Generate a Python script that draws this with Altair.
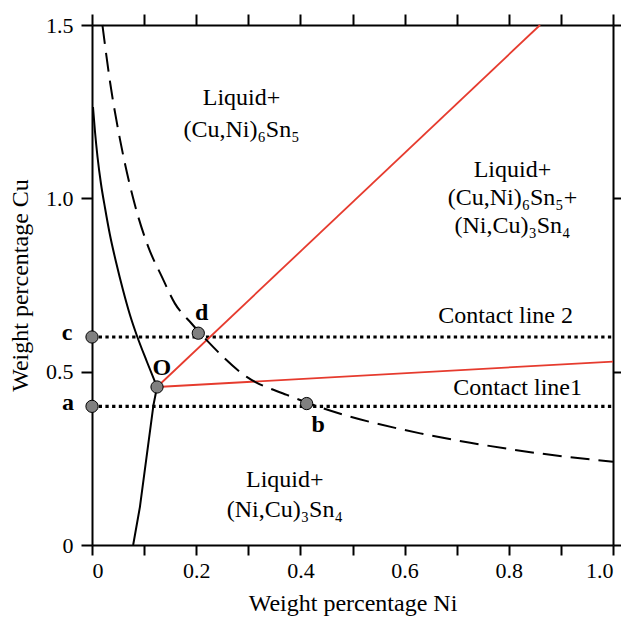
import altair as alt
import pandas as pd

# ---- data ----
solid_upper_x = [0.0019, 0.0058, 0.0106, 0.0173, 0.0250, 0.0345, 0.0461,
                 0.0595, 0.0729, 0.0864, 0.1056, 0.1248]
solid_upper_y = [1.2634, 1.1913, 1.1192, 1.0413, 0.9721, 0.8942, 0.8163,
                 0.7356, 0.6635, 0.6029, 0.5279, 0.4558]
solid_lower_x = [0.1248, 0.118, 0.092, 0.079]
solid_lower_y = [0.4558, 0.404, 0.110, 0.0]

dashed_x = [0.020, 0.035, 0.054, 0.079, 0.108, 0.134, 0.159, 0.191, 0.220,
            0.297, 0.374, 0.425, 0.630, 0.726, 0.860, 1.0]
dashed_y = [1.5, 1.332, 1.168, 1.0, 0.860, 0.774, 0.697, 0.639, 0.591,
            0.485, 0.433, 0.404, 0.322, 0.295, 0.264, 0.240]

red1_x = [0.1248, 0.86]
red1_y = [0.4558, 1.5]
red2_x = [0.1248, 1.0]
red2_y = [0.4558, 0.529]

contact_names = ["Contact line 2", "Contact line1"]
contact_y = [0.6, 0.4]

point_names = ["c", "a", "O", "d", "b"]
point_x = [0.0, 0.0, 0.1248, 0.204, 0.412]
point_y = [0.6, 0.4, 0.4558, 0.611, 0.408]
point_label_x = [-0.048, -0.046, 0.134, 0.2105, 0.434]
point_label_y = [0.591, 0.389, 0.490, 0.649, 0.327]

region_text = ["Liquid+", "(Cu,Ni)\u2086Sn\u2085",
               "Liquid+", "(Cu,Ni)\u2086Sn\u2085+", "(Ni,Cu)\u2083Sn\u2084",
               "Liquid+", "(Ni,Cu)\u2083Sn\u2084",
               "Contact line 2", "Contact line1"]
region_x = [0.287, 0.287, 0.807, 0.807, 0.807, 0.370, 0.370, 0.794, 0.817]
region_y = [1.269, 1.177, 1.062, 0.981, 0.899, 0.168, 0.082, 0.640, 0.433]

x_ticks = [round(i * 0.1, 1) for i in range(11)]
y_ticks = [0, 0.5, 1.0, 1.5]

FONT = "Liberation Serif"
RED = "#e63b2e"

xs = alt.Scale(domain=[0, 1], nice=False, zero=False)
ys = alt.Scale(domain=[0, 1.5], nice=False, zero=False)


def X(axis=None):
    if axis is None:
        return alt.X("x:Q", scale=xs, axis=None)
    return alt.X("x:Q", scale=xs, axis=axis)


def Y(axis=None):
    if axis is None:
        return alt.Y("y:Q", scale=ys, axis=None)
    return alt.Y("y:Q", scale=ys, axis=axis)


# dotted contact lines
dotted_df = pd.DataFrame({
    "x": [0.0, 1.0, 0.0, 1.0],
    "y": [contact_y[0], contact_y[0], contact_y[1], contact_y[1]],
    "g": [contact_names[0], contact_names[0], contact_names[1], contact_names[1]],
})
dotted = alt.Chart(dotted_df).mark_line(
    color="black", strokeWidth=3.2, strokeDash=[3.3, 3.4]
).encode(
    x=X(alt.Axis(orient="bottom", values=x_ticks,
                 labelExpr="datum.value == 0 ? '0' : (round(datum.value*10) % 2 == 0 ? format(datum.value, '.1f') : '')",
                 title="Weight percentage Ni", titlePadding=10,
                 tickSize=10, labelPadding=5, grid=False)),
    y=Y(alt.Axis(orient="left", values=y_ticks,
                 labelExpr="datum.value == 0 ? '0' : format(datum.value, '.1f')",
                 title="Weight percentage Cu", titlePadding=13,
                 tickSize=11, labelPadding=8, grid=False)),
    detail="g:N",
)

red_df = pd.DataFrame({
    "x": red1_x + red2_x,
    "y": red1_y + red2_y,
    "g": ["r1"] * len(red1_x) + ["r2"] * len(red2_x),
})
red = alt.Chart(red_df).mark_line(color=RED, strokeWidth=1.8).encode(
    x=X(), y=Y(), detail="g:N")

solid_up_df = pd.DataFrame({"x": solid_upper_x, "y": solid_upper_y})
solid_up = alt.Chart(solid_up_df).mark_line(
    color="black", strokeWidth=2, interpolate="monotone"
).encode(x=X(), y=Y())

solid_lo_df = pd.DataFrame({"x": solid_lower_x, "y": solid_lower_y,
                            "o": list(range(len(solid_lower_x)))})
solid_lo = alt.Chart(solid_lo_df).mark_line(
    color="black", strokeWidth=2
).encode(x=X(), y=Y(), order="o:Q")

dashed_df = pd.DataFrame({"x": dashed_x, "y": dashed_y})
dashed = alt.Chart(dashed_df).mark_line(
    color="black", strokeWidth=2, strokeDash=[19, 9], interpolate="monotone"
).encode(x=X(), y=Y())

pts_df = pd.DataFrame({"x": point_x, "y": point_y, "name": point_names})
pts = alt.Chart(pts_df).mark_point(
    shape="circle", filled=True, fill="#808080", stroke="black",
    strokeWidth=1, size=150, opacity=1
).encode(x=X(), y=Y())

plab_df = pd.DataFrame({"x": point_label_x, "y": point_label_y, "t": point_names})
plab = alt.Chart(plab_df).mark_text(
    font=FONT, fontSize=24, fontWeight="bold", align="center",
    baseline="alphabetic", color="black"
).encode(x=X(), y=Y(), text="t:N")

reg_df = pd.DataFrame({"x": region_x, "y": region_y, "t": region_text})
reg = alt.Chart(reg_df).mark_text(
    font=FONT, fontSize=24, align="center", baseline="alphabetic", color="black"
).encode(x=X(), y=Y(), text="t:N")

frame_df = pd.DataFrame({"x": [0.0, 1.0], "y": [0.0, 1.5]})
frame = alt.Chart(frame_df).mark_point(opacity=0).encode(
    x=X(alt.Axis(orient="top", values=x_ticks, labels=False, title=None,
                 tickSize=11, grid=False)),
    y=Y(alt.Axis(orient="right", values=y_ticks, labels=False, title=None,
                 tickSize=11, grid=False)),
)

chart = alt.layer(dotted, frame, red, solid_up, solid_lo, dashed, pts, plab, reg).resolve_axis(
    x="independent", y="independent"
).properties(
    width=521, height=520,
    autosize=alt.AutoSizeParams(type="none"),
    padding={"left": 84, "top": 17, "right": 8, "bottom": 74},
).configure_view(stroke="transparent").configure_axis(
    domainColor="black", domainWidth=2, tickColor="black", tickWidth=2,
    labelFont=FONT, labelFontSize=22, labelColor="black",
    titleFont=FONT, titleFontSize=24, titleFontWeight="normal", titleColor="black",
)

chart.save("out.html", embed_options={"renderer": "svg", "actions": False})
